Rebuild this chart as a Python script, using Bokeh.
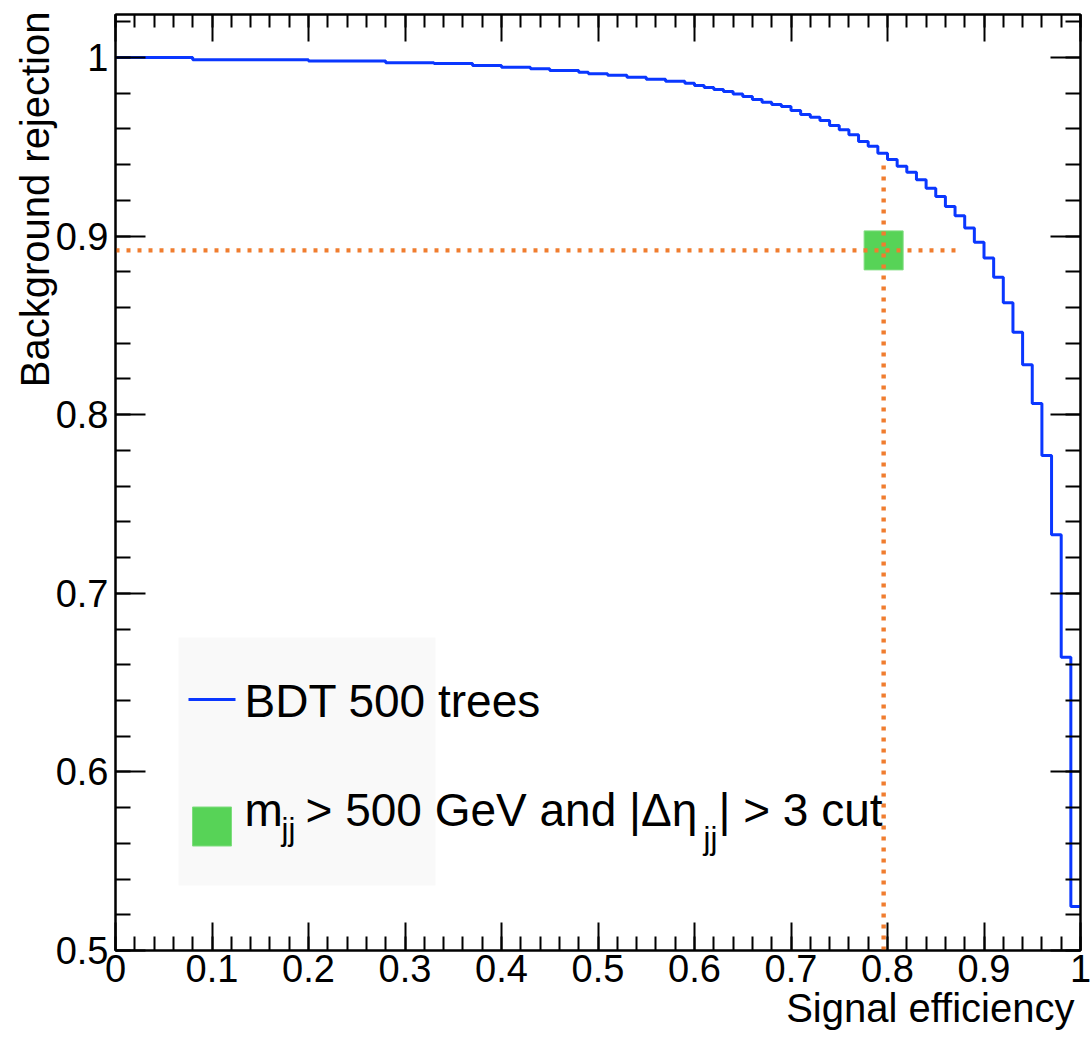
import math
from bokeh.plotting import figure
from bokeh.models import (Range1d, LinearAxis, SingleIntervalTicker, CustomJSTickFormatter, Label, Title)
from bokeh.embed import file_html
from bokeh.resources import INLINE

# ---------------- data ----------------
bin_width = 0.01
rejection = [
    1.0000, 1.0000, 1.0000, 1.0000, 1.0000, 1.0000, 1.0000, 1.0000,          # 0-7
    0.9988, 0.9988, 0.9988, 0.9988, 0.9988, 0.9988, 0.9988, 0.9988,          # 8-15
    0.9988, 0.9988, 0.9988, 0.9988,                                          # 16-19
    0.9980, 0.9980, 0.9980, 0.9980, 0.9980, 0.9980, 0.9980, 0.9980,          # 20-27
    0.9971, 0.9971, 0.9971, 0.9971, 0.9971,                                  # 28-32
    0.9967, 0.9967, 0.9967, 0.9967,                                          # 33-36
    0.9955, 0.9955, 0.9955,                                                  # 37-39
    0.9946, 0.9946, 0.9946,                                                  # 40-42
    0.9937, 0.9937,                                                          # 43-44
    0.9927, 0.9927, 0.9927,                                                  # 45-47
    0.9918,                                                                  # 48
    0.9909, 0.9909,                                                          # 49-50
    0.9901, 0.9901,                                                          # 51-52
    0.9890, 0.9890,                                                          # 53-54
    0.9878, 0.9878,                                                          # 55-56
    0.9867, 0.9867,                                                          # 57-58
    0.9856, 0.9843, 0.9832, 0.9821, 0.9810, 0.9796, 0.9782, 0.9765,          # 59-66
    0.9750, 0.9737, 0.9726, 0.9703, 0.9681, 0.9666, 0.9647, 0.9619,          # 67-74
    0.9595, 0.9567, 0.9530, 0.9503, 0.9464, 0.9429, 0.9391, 0.9358,          # 75-82
    0.9315, 0.9268, 0.9222, 0.9166, 0.9114, 0.9046, 0.8966, 0.8878,          # 83-90
    0.8770, 0.8627, 0.8462, 0.8279, 0.8063, 0.7772, 0.7328, 0.6642,          # 91-98
    0.5246,                                                                  # 99
]
cut_efficiency = 0.796
cut_rejection = 0.892
cut_hline_end = 0.877
cut_vline_top = 0.943

x_title = "Signal efficiency"
y_title = "Background rejection"

# ---------------- layout helpers ----------------
FRAME_L, FRAME_R = 115.0, 1080.0      # page px of x=0 and x=1
FRAME_B = 950.0                       # page px of y=0.5
Y1_PX, PX_PER_UNIT_Y = 57.0, 1786.0   # page px of y=1 and px per unit


def dx(px):
    return (px - FRAME_L) / (FRAME_R - FRAME_L)


def dy(py):
    return 1.0 - (py - Y1_PX) / PX_PER_UNIT_Y


y_top = 0.5 + 936.0 / PX_PER_UNIT_Y

p = figure(width=1092, height=1041,
           x_range=Range1d(0, 1), y_range=Range1d(0.5, y_top),
           output_backend="svg", toolbar_location=None,
           min_border_left=115, min_border_right=12,
           min_border_top=14, min_border_bottom=91)
p.background_fill_color = "white"
p.border_fill_color = "white"
p.outline_line_color = "black"
p.outline_line_width = 2
p.xgrid.visible = False
p.ygrid.visible = False

ticker = SingleIntervalTicker(interval=0.1, num_minor_ticks=5)
fmt = CustomJSTickFormatter(code="return (Math.round(tick*100)/100).toString();")

FONT = "Liberation Sans"


def style_axis(ax, major_in, minor_in, labels=True):
    ax.ticker = ticker
    ax.formatter = fmt
    ax.axis_line_color = "black"
    ax.axis_line_width = 2
    ax.major_tick_line_color = "black"
    ax.major_tick_line_width = 2
    ax.minor_tick_line_color = "black"
    ax.minor_tick_line_width = 2
    ax.major_tick_in = major_in
    ax.major_tick_out = 0
    ax.minor_tick_in = minor_in
    ax.minor_tick_out = 0
    ax.axis_label = None
    if labels:
        ax.major_label_text_font = FONT
        ax.major_label_text_font_size = "38px"
        ax.major_label_text_color = "black"
    else:
        ax.major_label_text_font_size = "0px"
        ax.major_label_standoff = 0
        ax.axis_label_standoff = 0


style_axis(p.xaxis[0], 28, 14)
p.xaxis[0].major_label_standoff = 4
style_axis(p.yaxis[0], 30, 15)
p.yaxis[0].major_label_standoff = 7

top_axis = LinearAxis()
style_axis(top_axis, 27, 13, labels=False)
p.add_layout(top_axis, "above")
right_axis = LinearAxis()
style_axis(right_axis, 30, 15, labels=False)
p.add_layout(right_axis, "right")

# axis titles (ROOT style: right/top aligned)
p.add_layout(Title(text=x_title, align="right", offset=6, standoff=-2,
                   text_font=FONT, text_font_size="40px", text_font_style="normal",
                   text_color="black"), "below")
p.add_layout(Title(text=y_title, align="right", offset=-3, standoff=-8,
                   text_font=FONT, text_font_size="40px", text_font_style="normal",
                   text_color="black"), "left")

# legend background (very faint)
p.quad(left=[dx(178)], right=[dx(435)], top=[dy(637)], bottom=[dy(885)],
       fill_color="#f9f9f9", line_color=None)

# ROC step curve
edges = [i * bin_width for i in range(len(rejection) + 1)]
p.step(x=edges, y=rejection + [rejection[-1]], mode="after",
       line_color="#0a37ff", line_width=3)

# cut point
p.scatter(x=[cut_efficiency], y=[cut_rejection], marker="square", size=39,
          fill_color="#57d357", line_color="#7fdd7f", line_width=1)

ORANGE = "#f07d2f"
p.line(x=[0, cut_hline_end], y=[cut_rejection, cut_rejection],
       line_color=ORANGE, line_width=4.4, line_dash="4 7")
p.line(x=[cut_efficiency, cut_efficiency], y=[0.5, cut_vline_top],
       line_color=ORANGE, line_width=4.4, line_dash="4 7")

# legend entries
p.line(x=[dx(188), dx(235)], y=[dy(699), dy(699)], line_color="#0a37ff", line_width=3)
p.scatter(x=[dx(211.5)], y=[dy(826)], marker="square", size=39,
          fill_color="#57d357", line_color="#7fdd7f", line_width=1)

BASELINE_FIX = 0.37  # em: Bokeh label baseline correction


def lab(text, px, py, size, align="left", baseline="alphabetic", color="black"):
    p.add_layout(Label(x=dx(px), y=dy(py - BASELINE_FIX * size), text=text, text_font=FONT,
                       text_font_size=f"{size}px", text_align=align,
                       text_baseline=baseline, text_color=color))


lab("BDT 500 trees", 244, 718, 46)
lab("m", 244, 827, 46)
lab("jj", 281, 840, 31)
lab("> 500 GeV and |Δη", 305, 827, 46)
lab("jj", 703, 849, 31)
lab("| > 3 cut", 718, 827, 46)

# page number fragment (outside the frame -> screen units, frame-relative)
p.add_layout(Label(x=988 - FRAME_L, y=FRAME_B - 1026, x_units="screen", y_units="screen",
                   text="16", text_font=FONT, text_font_size="24px", text_align="left",
                   text_baseline="top", text_color="#999999"))

open("out.html", "w").write(file_html(p, INLINE))
